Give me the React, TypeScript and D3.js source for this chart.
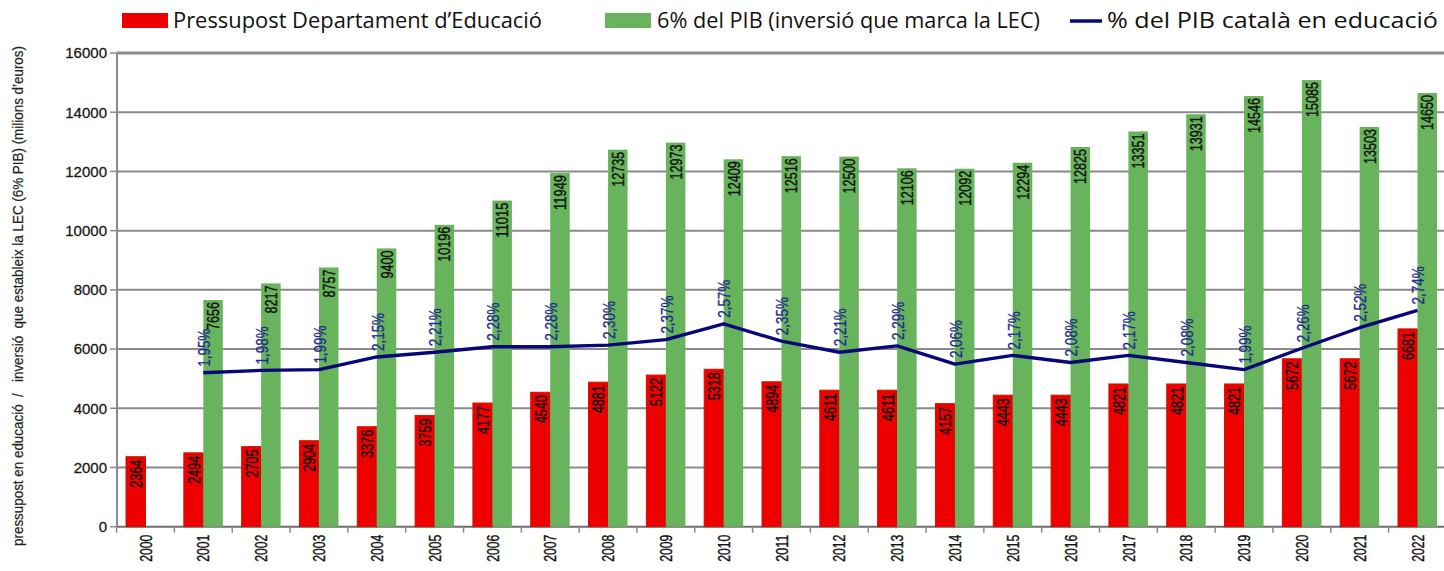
import React from "react";
import * as d3 from "d3";

const years = ["2000","2001","2002","2003","2004","2005","2006","2007","2008","2009","2010","2011","2012","2013","2014","2015","2016","2017","2018","2019","2020","2021","2022"];
const budget = [2364,2494,2705,2904,3376,3759,4177,4540,4881,5122,5318,4894,4611,4611,4157,4443,4443,4821,4821,4821,5672,5672,6681];
const lec: (number | null)[] = [null,7656,8217,8757,9400,10196,11015,11949,12735,12973,12409,12516,12500,12106,12092,12294,12825,13351,13931,14546,15085,13503,14650];
const pct: (number | null)[] = [null,1.95,1.98,1.99,2.15,2.21,2.28,2.28,2.30,2.37,2.57,2.35,2.21,2.29,2.06,2.17,2.08,2.17,2.08,1.99,2.26,2.52,2.74];
const yTicks = [0,2000,4000,6000,8000,10000,12000,14000,16000];
const legendLabels = ["Pressupost Departament d\u2019Educaci\u00f3", "6% del PIB (inversi\u00f3 que marca la LEC)", "% del PIB catal\u00e0 en educaci\u00f3"];
const yTitle = "pressupost en educaci\u00f3  /   inversi\u00f3  que estableix la LEC (6% PIB) (milions d\u2019euros)";

const W = 1444, H = 571;
const RED = "#ee0000", GREEN = "#68b45c", NAVY = "#07077a", GRID = "#8a8a8a";

export default function App() {
  const x = d3.scaleBand<string>().domain(years).range([116.6, 1446.4]).padding(0);
  const y = d3.scaleLinear().domain([0, 16000]).range([526.7, 53]);
  const yP = d3.scaleLinear().domain([0, 6]).range([526.7, 53]);
  const bw = 19.5;
  const cx = (yr: string) => (x(yr) as number) + x.bandwidth() / 2;

  const linePts = years.map((yr, i) => ({ yr, v: pct[i] })).filter(d => d.v != null) as { yr: string; v: number }[];
  const line = d3.line<{ yr: string; v: number }>().x(d => cx(d.yr)).y(d => yP(d.v));

  const narrow = "'Liberation Sans', Arial, sans-serif";
  const heavy = { stroke: "#111", strokeWidth: 0.4 };

  return (
    <svg width={W} height={H} style={{ position: "absolute", left: 0, top: 0, background: "#fff" }}>
      {/* Legend */}
      <rect x={122} y={13} width={46} height={15} fill={RED} />
      <text x={173} y={28} fontFamily="'Open Sans', sans-serif" fontSize={22} fill="#111" textLength={369} lengthAdjust="spacingAndGlyphs">{legendLabels[0]}</text>
      <rect x={605} y={13} width={46} height={15} fill={GREEN} />
      <text x={657} y={28} fontFamily="'Open Sans', sans-serif" fontSize={22} fill="#111" textLength={383} lengthAdjust="spacingAndGlyphs">{legendLabels[1]}</text>
      <line x1={1070} x2={1102} y1={21} y2={21} stroke={NAVY} strokeWidth={3.5} />
      <text x={1107} y={28} fontFamily="'Open Sans', sans-serif" fontSize={22} fill="#111" textLength={331} lengthAdjust="spacingAndGlyphs">{legendLabels[2]}</text>

      {/* Gridlines */}
      {yTicks.map(t => (
        <g key={t}>
          <line x1={117} x2={W} y1={y(t)} y2={y(t)} stroke={t === 0 ? "#6e6e6e" : GRID} strokeWidth={t === 16000 ? 3 : 2} />
          <line x1={110} x2={117} y1={y(t)} y2={y(t)} stroke={GRID} strokeWidth={1.5} />
          <text x={107} y={y(t)} dy="0.36em" textAnchor="end" fontFamily={narrow} fontSize={15} fill="#1a1a1a" stroke="#1a1a1a" strokeWidth={0.3}>{t}</text>
        </g>
      ))}
      <line x1={117} x2={117} y1={y(16000)} y2={y(0) + 1} stroke={GRID} strokeWidth={2} />

      {/* X ticks */}
      {years.map(yr => (
        <line key={"t" + yr} x1={x(yr) as number} x2={x(yr) as number} y1={y(0)} y2={y(0) + 6} stroke={GRID} strokeWidth={1.5} />
      ))}

      {/* Bars */}
      {years.map((yr, i) => (
        <g key={"b" + yr}>
          <rect x={cx(yr) - bw} y={y(budget[i])} width={bw} height={y(0) - y(budget[i])} fill={RED} stroke="#c21800" strokeWidth={1} />
          {lec[i] != null && (
            <rect x={cx(yr)} y={y(lec[i] as number)} width={bw} height={y(0) - y(lec[i] as number)} fill={GREEN} />
          )}
        </g>
      ))}

      {/* Bar labels */}
      {years.map((yr, i) => {
        const rx = cx(yr) - bw / 2;
        const ry = y(budget[i]) + 3;
        const s = String(budget[i]);
        return (
          <text key={"rl" + yr} transform={`translate(${rx},${ry}) rotate(-90)`} textAnchor="end" dy="0.36em" fontFamily={narrow} fontSize={17} fill="#111" {...heavy} textLength={s.length * 7} lengthAdjust="spacingAndGlyphs">{s}</text>
        );
      })}
      {years.map((yr, i) => {
        if (lec[i] == null) return null;
        const gx = cx(yr) + bw / 2;
        const gy = y(lec[i] as number) + 2;
        const s = String(lec[i]);
        return (
          <text key={"gl" + yr} transform={`translate(${gx},${gy}) rotate(-90)`} textAnchor="end" dy="0.36em" fontFamily={narrow} fontSize={17} fill="#111" {...heavy} textLength={s.length * 7} lengthAdjust="spacingAndGlyphs">{s}</text>
        );
      })}

      {/* Line */}
      <path d={line(linePts) as string} fill="none" stroke={NAVY} strokeWidth={3.4} strokeLinejoin="round" />
      {linePts.map(d => {
        const s = d.v.toFixed(2).replace(".", ",") + "%";
        return (
          <text key={"p" + d.yr} transform={`translate(${cx(d.yr) + 1},${yP(d.v) - 6}) rotate(-90)`} textAnchor="start" dy="0.36em" fontFamily={narrow} fontSize={16} fill="#1c2a8c" stroke="#1c2a8c" strokeWidth={0.3} textLength={38} lengthAdjust="spacingAndGlyphs">{s}</text>
        );
      })}

      {/* X labels */}
      {years.map(yr => (
        <text key={"x" + yr} transform={`translate(${cx(yr)},${y(0) + 8}) rotate(-90)`} textAnchor="end" dy="0.36em" fontFamily={narrow} fontSize={17} fill="#111" {...heavy} textLength={27} lengthAdjust="spacingAndGlyphs">{yr}</text>
      ))}

      {/* Y title */}
      <text transform={`translate(23,296) rotate(-90)`} textAnchor="middle" fontFamily={narrow} fontSize={14} fill="#222" stroke="#222" strokeWidth={0.2} textLength={500} lengthAdjust="spacingAndGlyphs" style={{ whiteSpace: "pre" }}>{yTitle}</text>
    </svg>
  );
}
